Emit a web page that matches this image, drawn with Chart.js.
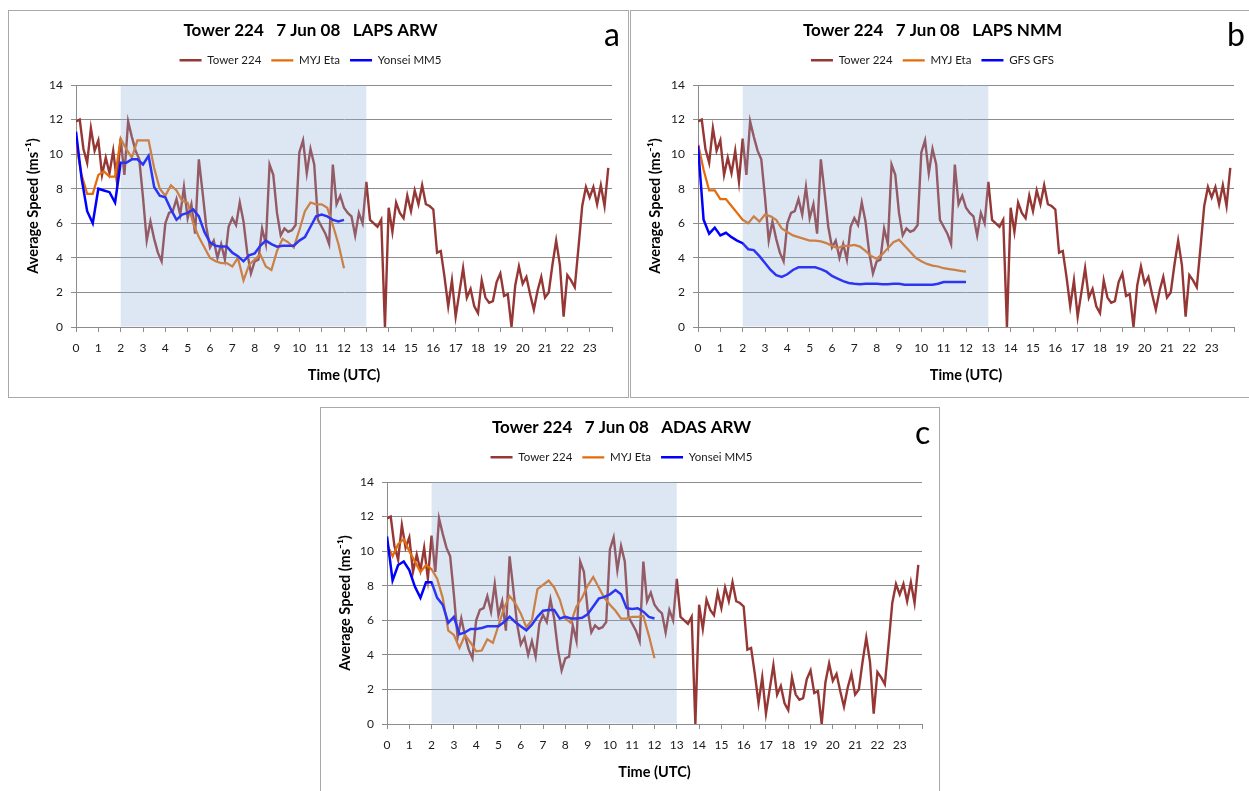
<!DOCTYPE html>
<html>
<head>
<meta charset="utf-8">
<script src="https://cdn.jsdelivr.net/npm/chart.js@4.4.1/dist/chart.umd.min.js"></script>
<style>
  body { margin: 0; background: #fff; width: 1249px; height: 791px; position: relative; overflow: hidden; }
  .panel { position: absolute; border: 1px solid #a9a9a9; background: #fff; }
  .panel canvas { display: block; }
  .tag { position: absolute; font: 32px Lato, sans-serif; line-height: 32px; color: #000; }
</style>
</head>
<body>

<div class="panel" style="left:8px; top:10px; width:619px; height:386px">
  <canvas id="chartA"></canvas>
  <div class="tag" style="left:595px; top:7px">a</div>
</div>
<div class="panel" style="left:630px; top:10px; width:619px; height:386px">
  <canvas id="chartB"></canvas>
  <div class="tag" style="left:596px; top:7px">b</div>
</div>
<div class="panel" style="left:320px; top:407px; width:618px; height:386px">
  <canvas id="chartC"></canvas>
  <div class="tag" style="left:594px; top:8px">c</div>
</div>

<script>
// tower 224 observations, one value every 10 minutes from 00:00 to 23:50 UTC
const towerStepMin = 10
const tower224 = [
  11.9, 12.0, 10.3, 9.5, 11.5, 10.2,
  10.8, 8.8, 9.8, 8.9, 10.2, 8.4,
  10.9, 8.8, 11.9, 11.0, 10.2, 9.7,
  7.5, 5.0, 6.1, 5.1, 4.3, 3.8,
  6.0, 6.6, 6.7, 7.4, 6.5, 8.1,
  6.3, 7.1, 5.4, 9.7, 7.8, 5.8,
  4.6, 5.0, 4.0, 4.8, 3.9, 5.8,
  6.3, 5.9, 7.2, 6.1, 4.3, 3.1,
  3.8, 3.9, 5.7, 4.8, 9.4, 8.8,
  6.6, 5.3, 5.7, 5.5, 5.6, 5.9,
  10.1, 10.8, 8.9, 10.3, 9.4, 6.2,
  5.8, 5.4, 4.8, 9.4, 7.1, 7.6,
  6.9, 6.6, 6.4, 5.3, 6.6, 6.0,
  8.4, 6.2, 6.0, 5.8, 6.2, 0.0,
  6.9, 5.5, 7.2, 6.6, 6.3, 7.6,
  6.7, 7.9, 7.1, 8.2, 7.1, 7.0,
  6.8, 4.3, 4.4, 2.9, 1.2, 2.7,
  0.6, 2.0, 3.4, 1.7, 2.2, 1.2,
  0.8, 2.7, 1.7, 1.4, 1.5, 2.6,
  3.1, 1.8, 1.9, 0.0, 2.4, 3.5,
  2.5, 2.9, 1.9, 1.0, 2.1, 2.9,
  1.7, 2.0, 3.6, 5.0, 3.6, 0.6,
  3.0, 2.7, 2.3, 4.6, 7.0, 8.1,
  7.5, 8.1, 7.1, 8.2, 7.0, 9.2
]

// model forecasts, one value every 15 minutes from 00:00 to 12:00 UTC
const modelStepMin = 15
const lapsArwEta = [
  10.6, 8.8, 7.7, 7.7, 8.8, 9.0, 8.7, 8.7,
  10.9, 10.3, 9.8, 10.8, 10.8, 10.8, 9.2, 8.0,
  7.6, 8.2, 7.9, 7.3, 7.2, 6.0, 5.2, 4.6,
  4.0, 3.8, 3.7, 3.7, 3.5, 4.0, 2.7, 3.6,
  3.9, 4.2, 3.5, 3.3, 4.4, 5.1, 4.9, 4.6,
  5.6, 6.7, 7.2, 7.1, 7.1, 6.9, 5.9, 4.8,
  3.4
]
const lapsArwYonsei = [
  11.3, 8.6, 6.7, 6.0, 8.0, 7.9, 7.8, 7.2,
  9.5, 9.5, 9.7, 9.7, 9.4, 9.9, 8.1, 7.6,
  7.5, 6.8, 6.2, 6.5, 6.6, 6.8, 6.4, 5.5,
  4.9, 4.7, 4.65, 4.65, 4.3, 4.1, 3.8, 4.15,
  4.25, 4.7, 5.0, 4.8, 4.65, 4.7, 4.7, 4.7,
  5.0, 5.2, 5.8, 6.4, 6.5, 6.4, 6.2, 6.1,
  6.2
]
const lapsNmmEta = [
  10.6, 9.1, 7.9, 7.9, 7.4, 7.4, 7.0, 6.6,
  6.2, 6.0, 6.4, 6.1, 6.5, 6.4, 6.2, 5.7,
  5.5, 5.3, 5.2, 5.1, 5.0, 5.0, 4.95, 4.85,
  4.7, 4.55, 4.7, 4.7, 4.75, 4.65, 4.4, 4.1,
  3.95, 4.2, 4.55, 4.9, 5.05, 4.7, 4.35, 4.0,
  3.8, 3.65, 3.55, 3.5, 3.4, 3.35, 3.3, 3.25,
  3.2
]
const lapsNmmGfs = [
  10.5, 6.2, 5.4, 5.75, 5.3, 5.45, 5.2, 5.0,
  4.85, 4.5, 4.45, 4.1, 3.7, 3.3, 3.0, 2.9,
  3.05, 3.3, 3.45, 3.45, 3.45, 3.45, 3.35, 3.2,
  2.95, 2.8, 2.65, 2.55, 2.5, 2.47, 2.5, 2.5,
  2.5, 2.47, 2.47, 2.5, 2.5, 2.45, 2.45, 2.45,
  2.45, 2.45, 2.45, 2.5, 2.6, 2.6, 2.6, 2.6,
  2.6
]
const adasArwEta = [
  10.4, 9.7, 10.4, 10.7, 10.0, 9.4, 8.8, 9.2,
  8.95, 8.4, 7.3, 5.4, 5.15, 4.4, 5.15, 4.7,
  4.2, 4.25, 4.9, 4.7, 5.7, 6.7, 7.4, 7.0,
  6.4, 5.6, 6.0, 7.8, 8.05, 8.3, 7.9, 7.2,
  6.1, 5.85, 6.8, 7.3, 8.0, 8.5, 7.9, 7.3,
  6.9, 6.55, 6.1, 6.1, 6.2, 6.2, 6.25, 5.1,
  3.8
]
const adasArwYonsei = [
  10.85, 8.3, 9.2, 9.4, 8.9, 7.95, 7.3, 8.2,
  8.2, 7.3, 6.9, 5.85, 6.2, 5.2, 5.3, 5.5,
  5.5, 5.55, 5.65, 5.65, 5.65, 5.9, 6.2, 5.9,
  5.65, 5.42, 5.75, 6.2, 6.55, 6.6, 6.6, 6.1,
  6.2, 6.1, 6.1, 6.15, 6.35, 6.8, 7.25, 7.35,
  7.5, 7.75, 7.5, 6.7, 6.65, 6.7, 6.5, 6.2,
  6.1
]

// shaded forecast window (hours UTC)
const shadeStart = 2
const shadeEnd = 13

const fontFamily = 'Lato, "Noto Sans", sans-serif'
const gridGrey = '#8c8c8c'

Chart.defaults.font.family = fontFamily
Chart.defaults.color = '#1a1a1a'

const toPoints = (values, stepMin) => values.map((v, i) => ({ x: i * stepMin / 60, y: v }))

const shadePlugin = {
  id: 'shade',
  afterDatasetsDraw(chart) {
    const { ctx, chartArea, scales } = chart
    const x1 = scales.x.getPixelForValue(shadeStart)
    const x2 = scales.x.getPixelForValue(shadeEnd)
    ctx.save()
    ctx.fillStyle = 'rgba(142, 175, 215, 0.3)'
    ctx.fillRect(x1, chartArea.top, x2 - x1, chartArea.bottom - chartArea.top - 0.5)
    ctx.restore()
  }
}

function makeChart(id, title, modelName, etaValues, modelValues, yWidth, rightPad) {
  const ctx = document.getElementById(id).getContext('2d')
  return new Chart(ctx, {
    type: 'line',
    data: {
      datasets: [
        {
          label: 'Tower 224',
          data: toPoints(tower224, towerStepMin),
          borderColor: '#953735',
          borderWidth: 2.4,
          xAxisID: 'x',
          yAxisID: 'y',
          order: 3
        },
        {
          label: 'MYJ Eta',
          data: toPoints(etaValues, modelStepMin),
          borderColor: '#e46c0a',
          borderWidth: 2.25,
          xAxisID: 'x',
          yAxisID: 'y',
          order: 2
        },
        {
          label: modelName,
          data: toPoints(modelValues, modelStepMin),
          borderColor: '#0000ff',
          borderWidth: 2.5,
          xAxisID: 'x',
          yAxisID: 'y',
          order: 1
        }
      ]
    },
    options: {
      responsive: true,
      maintainAspectRatio: false,
      animation: false,
      events: [],
      elements: {
        point: { radius: 0 },
        line: { tension: 0 }
      },
      layout: { padding: { left: 0, right: rightPad, top: 0, bottom: 0 } },
      plugins: {
        tooltip: { enabled: false },
        title: {
          display: true,
          text: title,
          color: '#000',
          font: { size: 17, weight: 'bold' },
          padding: { top: 8.8, bottom: 4 }
        },
        legend: {
          display: true,
          labels: {
            usePointStyle: true,
            pointStyle: 'line',
            pointStyleWidth: 22,
            padding: 10,
            color: '#1a1a1a',
            font: { size: 11.5 },
            sort: (a, b) => a.datasetIndex - b.datasetIndex
          }
        }
      },
      scales: {
        x: {
          type: 'linear',
          min: 0,
          max: 24,
          ticks: {
            stepSize: 1,
            padding: 9,
            font: { size: 12 },
            callback: (v) => (v === 24 ? '' : v)
          },
          grid: { drawOnChartArea: false, drawTicks: true, tickLength: 5, color: gridGrey },
          border: { color: gridGrey },
          title: {
            display: true,
            text: 'Time (UTC)',
            color: '#000',
            font: { size: 14.5, weight: 'bold' },
            padding: { top: 0, bottom: 13.3 }
          },
          afterFit: (scale) => { scale.height = 70 }
        },
        // empty spacer between the legend and the plot
        gap: {
          type: 'linear',
          position: 'top',
          grid: { display: false },
          border: { display: false },
          ticks: { display: false },
          afterFit: (scale) => { scale.height = 9 }
        },
        y: {
          min: 0,
          max: 14,
          ticks: { stepSize: 2, padding: 8, font: { size: 12 } },
          grid: { color: gridGrey, lineWidth: 1, drawTicks: true, tickLength: 5 },
          border: { color: gridGrey },
          title: {
            display: true,
            text: 'Average Speed (ms⁻¹)',
            color: '#000',
            font: { size: 14.5, weight: 'bold' },
            padding: { top: 15.3, bottom: 0 }
          },
          afterFit: (scale) => {
            scale.width = yWidth
            scale.paddingTop = 74
          }
        }
      }
    },
    plugins: [shadePlugin]
  })
}

makeChart('chartA', 'Tower 224   7 Jun 08   LAPS ARW', 'Yonsei MM5', lapsArwEta, lapsArwYonsei, 67, 16)
makeChart('chartB', 'Tower 224   7 Jun 08   LAPS NMM', 'GFS GFS', lapsNmmEta, lapsNmmGfs, 67, 16)
makeChart('chartC', 'Tower 224   7 Jun 08   ADAS ARW', 'Yonsei MM5', adasArwEta, adasArwYonsei, 66, 17)
</script>
</body>
</html>
